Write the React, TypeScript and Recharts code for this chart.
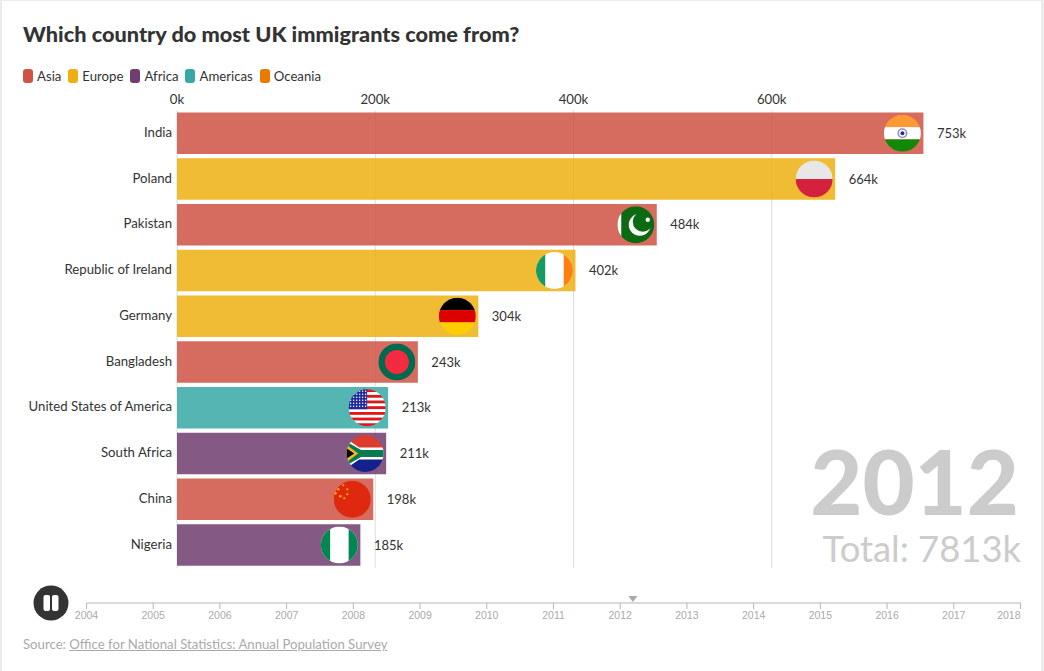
import React from "react";
import { BarChart, Bar, XAxis, YAxis, CartesianGrid, LabelList, ComposedChart, Line, ReferenceDot } from "recharts";

const FONT = "Lato, 'Noto Sans', sans-serif";
const countries = ["India", "Poland", "Pakistan", "Republic of Ireland", "Germany", "Bangladesh", "United States of America", "South Africa", "China", "Nigeria"];
const values = [753, 664, 484, 402, 304, 243, 213, 211, 198, 185];
const regionOf = ["Asia", "Europe", "Asia", "Europe", "Europe", "Asia", "Americas", "Africa", "Asia", "Africa"];
const legendNames = ["Asia", "Europe", "Africa", "Americas", "Oceania"];
const legendColors = ["#cf5244", "#edb010", "#6f3d70", "#36a8a6", "#e87a00"];
const valueTicks = [0, 200, 400, 600];
const yearTicks = [2004, 2005, 2006, 2007, 2008, 2009, 2010, 2011, 2012, 2013, 2014, 2015, 2016, 2017, 2018];
const currentYear = 2012.19;
const data = countries.map((name, i) => ({ name, value: values[i], region: regionOf[i] }));
const timelineData = yearTicks.map((year) => ({ year, v: 0 }));

const colorOf = (region: string) => legendColors[legendNames.indexOf(region)];

function FlagArt({ name }: { name: string }) {
  const r = 18.5;
  const box = { x: -r, width: 2 * r };
  const hStripes = (cols: string[]) => cols.map((c, i) => <rect key={i} {...box} y={-r + (i * 2 * r) / cols.length} height={(2 * r) / cols.length} fill={c} />);
  const wideCentre = (side1: string, side2: string) => (
    <g>
      <rect {...box} y={-r} height={2 * r} fill="#ffffff" />
      <rect x={-r} y={-r} width={r / 2} height={2 * r} fill={side1} />
      <rect x={r / 2} y={-r} width={r / 2} height={2 * r} fill={side2} />
    </g>
  );
  switch (name) {
    case "India":
      return <g>{hStripes(["#ff9933", "#ffffff", "#138808"])}<circle r={5} fill="#8f8fc4" /><circle r={3.4} fill="#ffffff" /><circle r={2} fill="#2b2b8c" /></g>;
    case "Poland":
      return <g>{hStripes(["#e8e6e6", "#d4213d"])}</g>;
    case "Pakistan":
      return <g>
        <rect {...box} y={-r} height={2 * r} fill="#0b6a12" />
        <rect x={-r} width={4} y={-r} height={2 * r} fill="#ffffff" />
        <circle cx={4} cy={0} r={11} fill="#ffffff" />
        <circle cx={7} cy={-3} r={10} fill="#0b6a12" />
        <circle cx={12} cy={-5} r={2.2} fill="#ffffff" />
      </g>;
    case "Republic of Ireland":
      return wideCentre("#169b62", "#ff7f10");
    case "Germany":
      return <g>{hStripes(["#000000", "#dd0000", "#ffce00"])}</g>;
    case "Bangladesh":
      return <g><rect {...box} y={-r} height={2 * r} fill="#006a4e" /><circle r={12} fill="#f42a41" /></g>;
    case "United States of America": {
      const stripes = Array.from({ length: 13 }, (_, i) => (i % 2 === 0 ? "#ee1111" : "#ffffff"));
      const stars: React.ReactNode[] = [];
      for (let row = 0; row < 6; row++) for (let col = 0; col < 6; col++) {
        stars.push(<circle key={`${row}-${col}`} cx={-r + 2 + col * 3} cy={-r + 2 + row * 3} r={0.75} fill="#ffffff" />);
      }
      return <g>{hStripes(stripes)}<rect x={-r} y={-r} width={18.5} height={20} fill="#1f2a9c" />{stars}</g>;
    }
    case "South Africa":
      return <g>
        <rect {...box} y={-r} height={r} fill="#de3c2c" />
        <rect {...box} y={0} height={r} fill="#14208c" />
        <path d="M-19 -15 L-6 -6 L19 -6 L19 6 L-6 6 L-19 15 Z" fill="#ffffff" />
        <path d="M-19 -12 L-4 -3.5 L19 -3.5 L19 3.5 L-4 3.5 L-19 12 Z" fill="#0a7a50" />
        <path d="M-19 -9 L-7 0 L-19 9 Z" fill="#f5b81c" />
        <path d="M-19 -5.5 L-11 0 L-19 5.5 Z" fill="#000000" />
      </g>;
    case "China":
      return <g>
        <rect {...box} y={-r} height={2 * r} fill="#de2910" />
        <circle cx={-17} cy={-6} r={1.4} fill="#ffb400" />
        <circle cx={-14} cy={-10} r={1.2} fill="#ffb400" />
        <circle cx={-12} cy={-3} r={1.3} fill="#ffb400" />
        <circle cx={-9} cy={-14} r={1.1} fill="#ffb400" />
        <circle cx={-5} cy={-10} r={1.1} fill="#ffb400" />
        <circle cx={-5} cy={-5} r={1.1} fill="#ffb400" />
        <circle cx={-8} cy={-1} r={1.1} fill="#ffb400" />
      </g>;
    default:
      return wideCentre("#008751", "#008751");
  }
}

function FlagBar(props: any) {
  const { x, y, width, height, payload } = props;
  const id = `clip-${payload.name.replace(/\s/g, "")}`;
  const color = colorOf(payload.region);
  return (
    <g>
      <rect x={x} y={y} width={width} height={height} fill={color} fillOpacity={0.85} />
      <clipPath id={id}><circle r={18.5} /></clipPath>
      <g transform={`translate(${x + width - 21},${y + height / 2})`}>
        <g clipPath={`url(#${id})`}><FlagArt name={payload.name} /></g>
      </g>
    </g>
  );
}

function CountryTick(props: any) {
  const { x, y, payload } = props;
  return <text x={x} y={y + 3.5} textAnchor="end" fontSize={13.2} fill="#333333" fontFamily={FONT}>{payload.value}</text>;
}

function YearTick(props: any) {
  const { x, y, payload } = props;
  const last = payload.value === yearTicks[yearTicks.length - 1];
  return <text x={x} y={y + 10} textAnchor={last ? "end" : "middle"} fontSize={10.5} fill="#aaaaaa" fontFamily="'Liberation Sans', Arial, sans-serif">{payload.value}</text>;
}

const triangle = (props: any) => <path d={`M${props.cx - 4.5} ${props.cy - 7} h9 l-4.5 6 Z`} fill="#aaaaaa" />;

export default function App() {
  return (
    <div style={{ position: "absolute", left: 0, top: 0, width: 1044, height: 671, background: "#ececec", overflow: "hidden", fontFamily: FONT }}>
      <div style={{ position: "absolute", left: 2, top: 1, width: 1039, height: 670, background: "#ffffff" }} />
      <div style={{ position: "absolute", left: 23, top: 19, fontSize: 21.7, fontWeight: 900, color: "#333333", lineHeight: "30px", whiteSpace: "nowrap" }}>
        Which country do most UK immigrants come from?
      </div>
      <div style={{ position: "absolute", left: 23, top: 67, display: "flex", alignItems: "center", height: 18, fontSize: 13.2, color: "#333333" }}>
        {legendNames.map((n, i) => (
          <div key={n} style={{ display: "flex", alignItems: "center", marginRight: 7 }}>
            <span style={{ width: 10, height: 14, borderRadius: 3, background: legendColors[i], marginRight: 4 }} />
            <span>{n}</span>
          </div>
        ))}
      </div>
      <div style={{ position: "absolute", left: 0, top: 0 }}>
        <BarChart width={1044} height={570} data={data} layout="vertical" margin={{ top: 80.5, right: 74, bottom: 2, left: 0 }} barSize={41.5}>
          <CartesianGrid vertical horizontal={false} stroke="#dddddd" syncWithTicks />
          <XAxis type="number" orientation="top" domain={[0, 800]} ticks={valueTicks} height={30} axisLine={false} tickLine={false} tickSize={0} tickMargin={7} interval={0}
            tickFormatter={(v: number) => `${v}k`} tick={{ fontSize: 13.2, fill: "#333333", fontFamily: FONT }} />
          <YAxis type="category" dataKey="name" width={177} axisLine={false} tickLine={false} tickSize={0} tickMargin={5} interval={0} tick={<CountryTick />} />
          <Bar dataKey="value" isAnimationActive={false} shape={<FlagBar />}>
            <LabelList dataKey="value" position="right" offset={13.5} formatter={(v: number) => `${v}k`} style={{ fontSize: 13, fill: "#333333", fontFamily: FONT }} />
          </Bar>
        </BarChart>
      </div>
      <div style={{ position: "absolute", right: 25, top: 435, fontSize: 90, fontWeight: 900, color: "#cccccc", lineHeight: "90px", whiteSpace: "nowrap" }}>2012</div>
      <div style={{ position: "absolute", right: 23, top: 526, fontSize: 36.4, color: "#cccccc", lineHeight: "44px", whiteSpace: "nowrap" }}>Total: 7813k</div>
      <div style={{ position: "absolute", left: 0, top: 570 }}>
        <ComposedChart width={1044} height={60} data={timelineData} margin={{ top: 10, right: 23.5, bottom: 0, left: 86.5 }}>
          <XAxis type="number" dataKey="year" domain={[2004, 2018]} ticks={yearTicks} interval={0} height={27} stroke="#b5b5b5" tickSize={6} tickMargin={0} tick={<YearTick />} />
          <YAxis hide type="number" domain={[0, 1]} />
          <Line dataKey="v" stroke="none" dot={false} isAnimationActive={false} />
          <ReferenceDot x={currentYear} y={0} shape={triangle} ifOverflow="visible" />
        </ComposedChart>
      </div>
      <svg width={36} height={36} style={{ position: "absolute", left: 33, top: 585 }}>
        <circle cx={18} cy={18} r={17.5} fill="#333333" />
        <rect x={10.5} y={10} width={6.5} height={16} rx={2} fill="#ffffff" />
        <rect x={19} y={10} width={6.5} height={16} rx={2} fill="#ffffff" />
      </svg>
      <div style={{ position: "absolute", left: 23, top: 635, fontSize: 13.2, color: "#aaaaaa", lineHeight: "18px", whiteSpace: "nowrap" }}>
        Source: <span style={{ textDecoration: "underline" }}>Office for National Statistics: Annual Population Survey</span>
      </div>
    </div>
  );
}
